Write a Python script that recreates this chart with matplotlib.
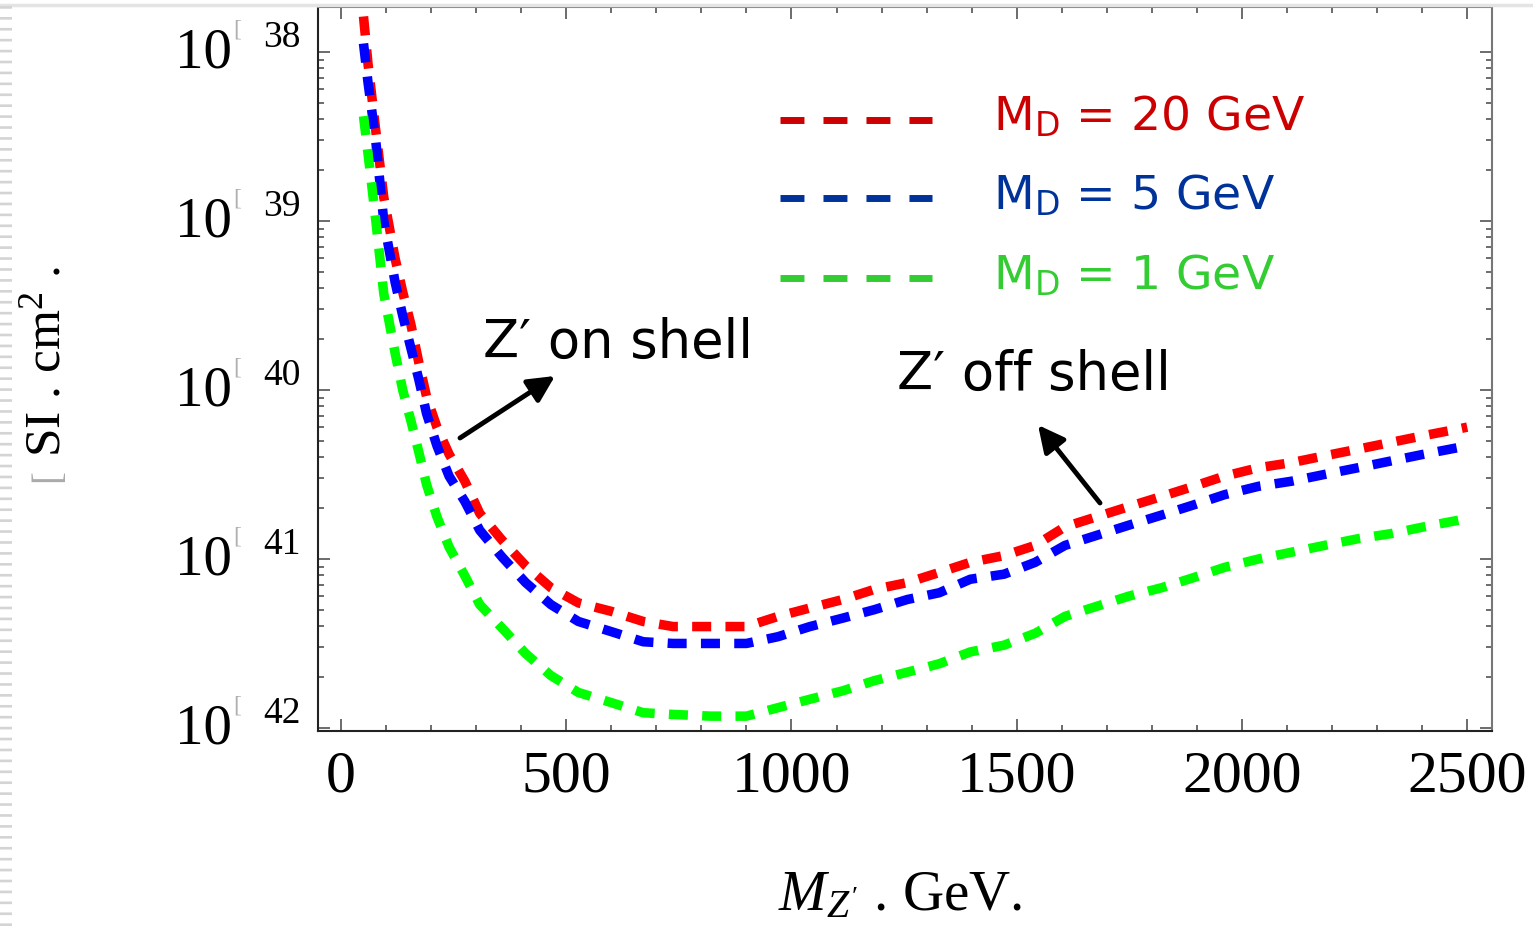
import matplotlib
matplotlib.use("Agg")
import matplotlib.pyplot as plt
import matplotlib.transforms as mtransforms
from matplotlib.lines import Line2D
from matplotlib.ticker import MultipleLocator, LogLocator, NullFormatter
import numpy as np

plt.rcParams['font.family'] = ['Liberation Serif', 'DejaVu Sans']
plt.rcParams['mathtext.fontset'] = 'custom'
plt.rcParams['mathtext.rm'] = 'Liberation Serif'
plt.rcParams['mathtext.it'] = 'Liberation Serif:italic'
plt.rcParams['mathtext.sf'] = 'DejaVu Sans'

# Z' mass (GeV) and log10 of sigma_SI (cm^2)
mass = [50, 60, 77, 95, 120, 137, 155, 173, 190, 213, 240, 275, 308, 358, 410,
        466, 527, 600, 671, 737, 820, 900, 970, 1041, 1114, 1184, 1257, 1328,
        1397, 1472, 1541, 1607, 1678, 1749, 1822, 1893, 1961, 2037, 2110, 2183,
        2258, 2331, 2404, 2482, 2500]
log_md20 = [-37.79, -38.07, -38.46, -38.86, -39.22, -39.42, -39.61, -39.84, -40.04,
            -40.22, -40.38, -40.54, -40.73, -40.89, -41.04, -41.17, -41.26, -41.31,
            -41.37, -41.40, -41.40, -41.40, -41.34, -41.29, -41.24, -41.18, -41.14,
            -41.08, -41.02, -40.98, -40.92, -40.81, -40.75, -40.69, -40.63, -40.57,
            -40.51, -40.46, -40.43, -40.39, -40.35, -40.31, -40.27, -40.23, -40.22]
log_md5 = [-37.95, -38.18, -38.52, -39.00, -39.36, -39.56, -39.75, -39.94, -40.14,
           -40.33, -40.51, -40.66, -40.83, -40.99, -41.14, -41.27, -41.37, -41.43,
           -41.49, -41.50, -41.50, -41.50, -41.46, -41.40, -41.35, -41.30, -41.24,
           -41.20, -41.12, -41.09, -41.02, -40.92, -40.86, -40.80, -40.74, -40.68,
           -40.62, -40.57, -40.54, -40.50, -40.46, -40.42, -40.38, -40.34, -40.33]
log_md1 = [-38.38, -38.60, -38.99, -39.43, -39.78, -40.00, -40.18, -40.37, -40.56,
           -40.75, -40.93, -41.10, -41.27, -41.41, -41.56, -41.69, -41.79, -41.85,
           -41.91, -41.92, -41.93, -41.93, -41.88, -41.83, -41.78, -41.72, -41.67,
           -41.62, -41.55, -41.51, -41.44, -41.34, -41.28, -41.22, -41.17, -41.11,
           -41.05, -41.00, -40.96, -40.92, -40.88, -40.85, -40.81, -40.77, -40.76]

labels = [r"M$_\mathsf{D}$ = 20 GeV", r"M$_\mathsf{D}$ = 5 GeV", r"M$_\mathsf{D}$ = 1 GeV"]
line_colors = ['#ff0000', '#0000ff', '#00ff00']
legend_colors = ['#cc0000', '#003399', '#33cc33']

x_ticks = [0, 500, 1000, 1500, 2000, 2500]
y_ticks = [1e-38, 1e-39, 1e-40, 1e-41, 1e-42]
y_exp = ['38', '39', '40', '41', '42']

W, H = 1533, 926
fig = plt.figure(figsize=(W / 100, H / 100), dpi=100)
L, R, T, B = 318, 1492, 7, 731
ax = fig.add_axes([L / W, 1 - B / H, (R - L) / W, (B - T) / H])


def axf(px, py):
    # pixel position in the figure -> axes fraction
    return (px - L) / (R - L), (B - py) / (B - T)


for vals, col, z in zip([log_md20, log_md5, log_md1], line_colors, [3, 4, 5]):
    ax.plot(mass, 10.0 ** np.array(vals), color=col, lw=6.85, dashes=(2.0, 1.5),
            dash_capstyle='butt', zorder=z)

ax.set_yscale('log')
ax.set_xlim(-51, 2555)
ax.set_ylim(10 ** -42.018, 10 ** -37.734)

ax.set_xticks(x_ticks)
ax.xaxis.set_minor_locator(MultipleLocator(100))
ax.set_yticks(y_ticks)
ax.yaxis.set_minor_locator(LogLocator(base=10, subs=np.arange(2, 10)))
ax.yaxis.set_major_formatter(NullFormatter())
ax.yaxis.set_minor_formatter(NullFormatter())
ax.tick_params(which='both', direction='in', top=True, right=True, width=1.1, color='#444444')
ax.tick_params(which='major', length=8.5)
ax.tick_params(which='minor', length=4.5)
ax.tick_params(axis='x', labelsize=43, pad=14)
for side in ['left', 'bottom']:
    ax.spines[side].set_color('#222222')
    ax.spines[side].set_linewidth(1.5)
for side in ['top', 'right']:
    ax.spines[side].set_color('#777777')
    ax.spines[side].set_linewidth(1.5)

# y tick labels: "10", a missing-glyph box and the exponent
trans = mtransforms.blended_transform_factory(ax.transAxes, ax.transData)
for val, e in zip(y_ticks, y_exp):
    ax.text(axf(232, 0)[0], val, "10", fontsize=41, ha='right', va='baseline',
            transform=mtransforms.offset_copy(trans, fig=fig, x=0, y=-16, units='dots'))
    ax.text(axf(233, 0)[0], val, "[", fontsize=17, color='#b0b0b0', ha='left', va='center',
            transform=mtransforms.offset_copy(trans, fig=fig, x=0, y=22, units='dots'))
    ax.text(axf(263, 0)[0], val, e, fontsize=27, ha='left', va='baseline',
            transform=mtransforms.offset_copy(trans, fig=fig, x=0, y=5, units='dots'))

# axis labels
fig.text(47 / W, 1 - 362 / H, r"SI . cm$^2$ .", fontsize=37, rotation=90, ha='center', va='center')
fig.text(49 / W, 1 - 476 / H, "[", fontsize=28, rotation=90, color='#aaaaaa', ha='center', va='center')
fig.text(900 / W, 1 - 910 / H, r"$M_{Z'}$ . GeV.", fontsize=41, ha='center', va='baseline')

# legend drawn by hand
for lab, col, py_line, py_text in zip(labels, legend_colors, [120, 198, 278], [131, 210, 290]):
    x0, y0 = axf(780, py_line)
    x1, _ = axf(932, py_line)
    ax.plot([x0, x1], [y0, y0], transform=ax.transAxes, color=col, lw=5.0,
            dashes=(3.45, 2.74), dash_capstyle='butt')
    ax.text(*axf(993, py_text), lab, transform=ax.transAxes, color=col, fontsize=34,
            family='DejaVu Sans', ha='left', va='baseline')

# annotations
ax.text(*axf(483, 358), "Z\u2032 on shell", transform=ax.transAxes, fontsize=38,
        family='DejaVu Sans', ha='left', va='baseline')
ax.text(*axf(897, 390), "Z\u2032 off shell", transform=ax.transAxes, fontsize=38,
        family='DejaVu Sans', ha='left', va='baseline')
arrow = dict(arrowstyle='-|>,head_length=0.8,head_width=0.4', lw=3.5, color='k',
             mutation_scale=20, shrinkA=0, shrinkB=0)
ax.annotate("", xy=axf(555, 376), xytext=axf(460, 438), xycoords='axes fraction',
            textcoords='axes fraction', arrowprops=arrow)
ax.annotate("", xy=axf(1038, 425), xytext=axf(1100, 503), xycoords='axes fraction',
            textcoords='axes fraction', arrowprops=arrow)

# page edge decorations of the screenshot
fig.add_artist(Line2D([0, 1], [1 - 4.5 / H] * 2, color='#e4e4e4', lw=2.5))
fig.add_artist(Line2D([6 / W] * 2, [0, 1], color='#d4d4d4', lw=8.64,
                      dashes=(0.22, 0.69), dash_capstyle='butt'))

fig.savefig("out.png", dpi=100)
